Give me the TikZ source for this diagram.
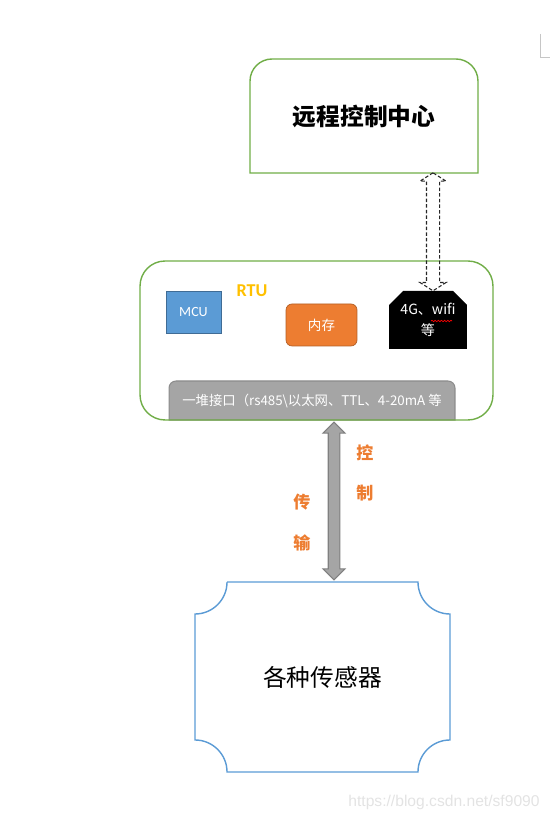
\documentclass[tikz,border=0pt]{standalone}
\usepackage{fontspec}
\setmainfont{Carlito}
\newfontfamily\cjk{Noto Sans CJK SC}
\newfontfamily\wmfont{Liberation Sans}
\usetikzlibrary{shapes.misc,shapes.arrows,positioning,calc,backgrounds,decorations.pathmorphing}
\definecolor{framegreen}{HTML}{70AD47}
\definecolor{frameblue}{HTML}{5B9BD5}
\definecolor{mcublue}{HTML}{5B9BD5}
\definecolor{memorange}{HTML}{ED7D31}
\definecolor{busgray}{HTML}{A5A5A5}
\definecolor{rtugold}{HTML}{FFC000}
\tikzset{
	blank/.style = {draw = none, rectangle, inner sep = 0, outer sep = 0},
	greenline/.style = {draw = framegreen, line width = 0.8pt},
	blueline/.style = {draw = frameblue, line width = 0.8pt},
	title/.style = {font = \cjk\bfseries\fontsize{13.5}{16}\selectfont},
	chip/.style = {rectangle, inner sep = 0, text = white, minimum height = 0.84cm},
	dasharrow/.style = {double arrow, draw = black!85, line width = 0.6pt, dash pattern = on 2pt off 1.2pt, inner xsep = 0, inner ysep = 0.12cm, double arrow head extend = 0.13cm, double arrow tip angle = 115, rotate = 90},
	grayarrow/.style = {double arrow, draw = black!50, fill = busgray, line width = 0.6pt, inner xsep = 0, inner ysep = 0.105cm, double arrow head extend = 0.105cm, double arrow tip angle = 90, rotate = 90},
	orangechar/.style = {inner sep = 0, text = memorange, font = \cjk\bfseries\fontsize{9.7}{11}\selectfont},
}

\begin{document}
\begin{tikzpicture}[x = 0.02cm, y = 0.02cm]
	\useasboundingbox (0,0) rectangle (550,821);
	\node [blank, title, minimum width = 4.56cm, minimum height = 2.28cm] (remote) at (364,705) {远程控制中心};
	\draw [greenline] (remote.south west) [rounded corners = 0.44cm] -- (remote.north west) -- (remote.north east) [sharp corners] -- (remote.south east) -- cycle;
		\begin{scope}
		\node [greenline, rectangle, rounded corners = 0.5cm, minimum width = 7.06cm, minimum height = 3.18cm] (rtu) at (316.5,480.5) {};
		\node [text = rtugold, font = \bfseries\fontsize{10.3}{12}\selectfont, inner sep = 0] (rtulabel) at (252,530) {RTU};
		\node [chip, fill = mcublue, draw = mcublue!70!black, minimum width = 1.1cm, font = \fontsize{8}{10}\selectfont] (mcu) at (193.5,509) {MCU};
		\node [chip, fill = memorange, draw = memorange!75!black, rounded corners = 0.12cm, minimum width = 1.42cm, font = \cjk\fontsize{7.7}{9}\selectfont] (mem) at (321.5,496) {内存};
		\node [chamfered rectangle, chamfered rectangle corners = {north west, north east}, chamfered rectangle sep = 0.14cm, fill = black, text = white, inner sep = 0, minimum width = 1.56cm, minimum height = 1.16cm, align = center, font = \cjk\fontsize{8}{12}\selectfont] (net) at (428,501) {4G、wifi\\等};
		\draw [red, line width = 0.4pt, decorate, decoration = {snake, amplitude = 0.4pt, segment length = 1.8pt}] ([shift = {(3,-1)}]net.center) -- ([shift = {(24,-1)}]net.center);
		\node [blank, text = white, minimum width = 5.72cm, minimum height = 0.78cm, font = \cjk\fontsize{7.6}{9}\selectfont] (bus) at (312,420.5) {一堆接口（rs485\textbackslash 以太网、TTL、4-20mA 等};
			\begin{scope}[on background layer]
			\draw [fill = busgray, draw = black!45, line width = 0.6pt] (bus.south west) [rounded corners = 0.14cm] -- (bus.north west) -- (bus.north east) [sharp corners] -- (bus.south east) -- cycle;
			\end{scope}
		\end{scope}
	\node [dasharrow, minimum height = 2.36cm] (uplink) at ($(net.north)!0.5!(net.north |- remote.south) + (5,0)$) {};
	\node [blank, font = \cjk\fontsize{13.5}{16}\selectfont, minimum width = 5.1cm, minimum height = 3.8cm] (sensor) at (322.5,144) {各种传感器};
	\draw [blueline] ([xshift = 0.64cm]sensor.north west) -- ([xshift = -0.64cm]sensor.north east) arc [start angle = 180, end angle = 270, radius = 0.64cm]
		-- ([yshift = 0.64cm]sensor.south east) arc [start angle = 90, end angle = 180, radius = 0.64cm]
		-- ([xshift = 0.64cm]sensor.south west) arc [start angle = 0, end angle = 90, radius = 0.64cm]
		-- ([yshift = -0.64cm]sensor.north west) arc [start angle = 270, end angle = 360, radius = 0.64cm];
	\node [grayarrow, minimum height = 3.16cm] (downlink) at ($(bus.south)!0.5!(bus.south |- sensor.north) + (22,0)$) {};
	\node [orangechar] (kong) at (365,368) {控};
	\node [orangechar, below = 0.8cm of kong.center, anchor = center] (zhi) {制};
	\node [orangechar] (chuan) at (302,319) {传};
	\node [orangechar, below = 0.82cm of chuan.center, anchor = center] (shu) {输};
	\node [text = gray!22, font = \wmfont\fontsize{8.9}{10}\selectfont, inner sep = 0] (mark) at (444,19) {https://blog.csdn.net/sf9090};
	\draw [gray!45, line width = 0.4pt] (540,787) |- (550,764);
\end{tikzpicture}
\end{document}
